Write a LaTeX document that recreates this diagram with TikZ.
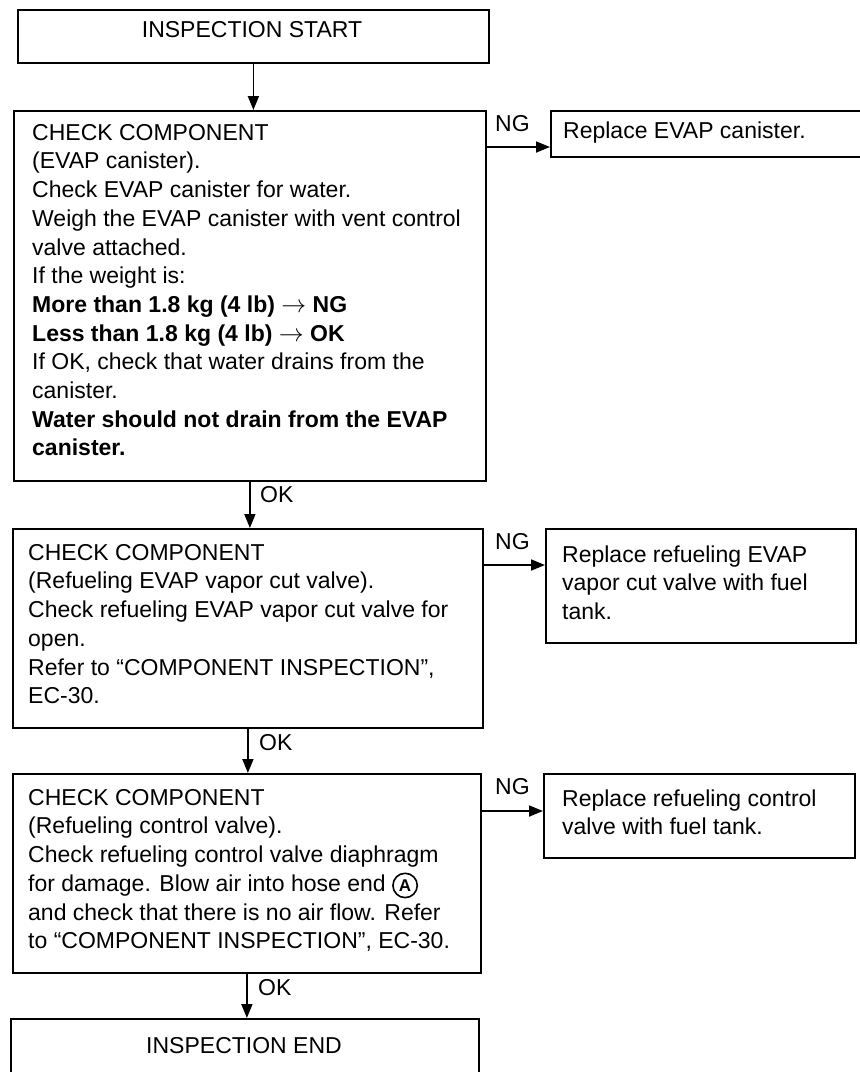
\documentclass[tikz,border=0pt]{standalone}
\usepackage{fontspec}
\setmainfont{Liberation Sans}
\usetikzlibrary{arrows.meta}
\newcommand{\circA}{\tikz[baseline=(ca.base)]\node[draw,circle,line width=1.6pt,inner sep=2.6pt,font=\bfseries\fontsize{17}{17}\selectfont](ca){A};}
\begin{document}
\begin{tikzpicture}[x=1pt,y=-1pt,
  box/.style={draw,line width=1.8pt,inner sep=0pt,anchor=north west},
  txt/.style={inner sep=0pt,anchor=north west,align=left,font=\fontsize{23}{28.7}\selectfont},
  lbl/.style={inner sep=0pt,anchor=base west,font=\fontsize{23}{28.7}\selectfont},
  ctr/.style={inner sep=0pt,anchor=base,font=\fontsize{23}{28.7}\selectfont},
  arr/.style={line width=1.8pt,-{Triangle[length=14pt,width=11pt]}}]
\clip (0,0) rectangle (860,1072);
\fill[white] (0,0) rectangle (860,1072);
% boxes
\node[box,minimum width=471pt,minimum height=53pt] (s) at (17,9) {};
\node[box,minimum width=472pt,minimum height=370pt] (b1) at (13,110) {};
\node[box,minimum width=470pt,minimum height=199pt] (b2) at (12,528) {};
\node[box,minimum width=468pt,minimum height=199pt] (b3) at (12,773) {};
\node[box,minimum width=468pt,minimum height=100pt] (e) at (10,1018) {};
\node[box,minimum width=330pt,minimum height=46pt] (r1) at (550,110) {};
\node[box,minimum width=310pt,minimum height=114pt] (r2) at (545,528) {};
\node[box,minimum width=311pt,minimum height=84pt] (r3) at (543,773) {};
% texts
\node[ctr] (st) at (252,37) {INSPECTION START};
\node[ctr] (et) at (244,1053) {INSPECTION END};
\node[txt] (t1) at (32,120) {\rule{0pt}{20pt}CHECK COMPONENT\\
(EVAP canister).\\
Check EVAP canister for water.\\
Weigh the EVAP canister with vent control\\
valve attached.\\
If the weight is:\\
\textbf{More than 1.8 kg (4 lb) $\rightarrow$ NG}\\
\textbf{Less than 1.8 kg (4 lb) $\rightarrow$ OK}\\
If OK, check that water drains from the\\
canister.\\
\textbf{Water should not drain from the EVAP}\\
\textbf{canister.}};
\node[txt] (t2) at (28,540) {\rule{0pt}{20pt}CHECK COMPONENT\\
(Refueling EVAP vapor cut valve).\\
Check refueling EVAP vapor cut valve for\\
open.\\
Refer to “COMPONENT INSPECTION”,\\
EC-30.};
\node[txt] (t3) at (28,785) {\rule{0pt}{20pt}CHECK COMPONENT\\
(Refueling control valve).\\
Check refueling control valve diaphragm\\
for damage. Blow air into hose end \circA\\
and check that there is no air flow. Refer\\
to “COMPONENT INSPECTION”, EC-30.};
\node[txt] (u1) at (563,118) {\rule{0pt}{20pt}Replace EVAP canister.};
\node[txt] (u2) at (562,542) {\rule{0pt}{20pt}Replace refueling EVAP\\
vapor cut valve with fuel\\
tank.};
\node[txt] (u3) at (562,786) {\rule{0pt}{20pt}Replace refueling control\\
valve with fuel tank.};
% labels
\node[lbl] (ng1) at (495,131) {NG};
\node[lbl] (ng2) at (495,549) {NG};
\node[lbl] (ng3) at (495,794) {NG};
\node[lbl] (ok1) at (260,502) {OK};
\node[lbl] (ok2) at (259,750) {OK};
\node[lbl] (ok3) at (258,995) {OK};
% connectors
\draw[arr] (s.south) -- (s.south |- b1.north);
\draw[arr] (b1.south) -- (b1.south |- b2.north);
\draw[arr] (b2.south) -- (b2.south |- b3.north);
\draw[arr] (b3.south) -- (b3.south |- e.north);
\coordinate (n1) at ([yshift=-37pt]b1.north east);
\coordinate (n2) at ([yshift=-37pt]b2.north east);
\coordinate (n3) at ([yshift=-38pt]b3.north east);
\draw[arr] (n1) -- (n1 -| r1.west);
\draw[arr] (n2) -- (n2 -| r2.west);
\draw[arr] (n3) -- (n3 -| r3.west);
\end{tikzpicture}
\end{document}
